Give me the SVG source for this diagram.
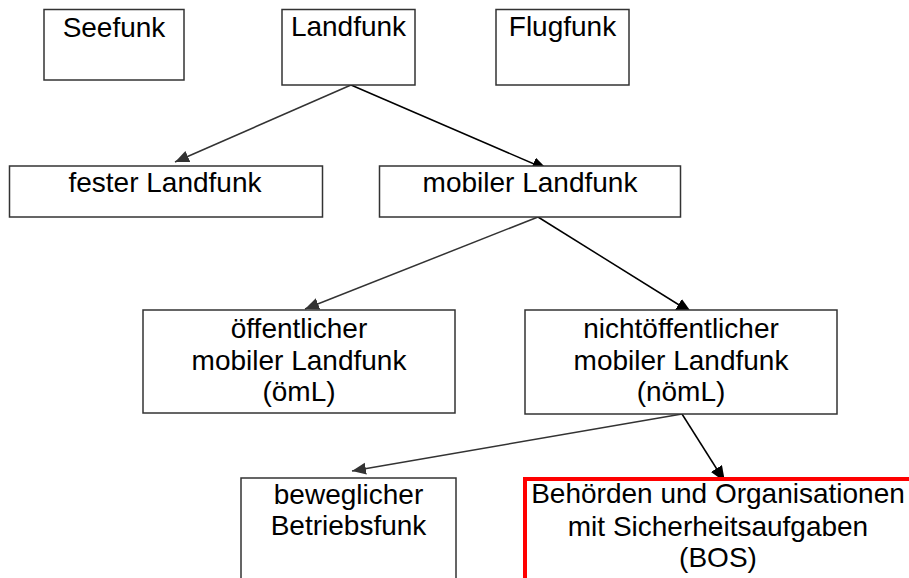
<svg xmlns="http://www.w3.org/2000/svg" width="909" height="578" viewBox="0 0 909 578">
<style>
.box{fill:#fff;stroke:#333;stroke-width:1.5}
.bos{fill:#fff;stroke:#f00;stroke-width:4}
.t{font-family:"Liberation Sans",Arial,sans-serif;font-size:28px;fill:#000;text-anchor:middle}
.c1{stroke:#333;stroke-width:1.5;fill:none}
.c2{stroke:#000;stroke-width:1.5;fill:none}
</style>
<defs>
<marker id="ag" markerUnits="userSpaceOnUse" markerWidth="16" markerHeight="14" refX="14" refY="6" orient="auto">
<path d="M0,0 L14,6 L0,12 Z" fill="#333"/>
</marker>
<marker id="ab" markerUnits="userSpaceOnUse" markerWidth="18" markerHeight="14" refX="16" refY="6.5" orient="auto">
<path d="M0,0 L16,6.5 L0,13 Z" fill="#000"/>
</marker>
</defs>
<rect width="909" height="578" fill="#fff"/>
<g id="connectors">
<line class="c1" x1="351" y1="85" x2="175" y2="162" marker-end="url(#ag)"/>
<line class="c2" x1="351" y1="85" x2="548" y2="170" marker-end="url(#ab)"/>
<line class="c1" x1="538" y1="217" x2="305" y2="309" marker-end="url(#ag)"/>
<line class="c2" x1="538" y1="217" x2="692" y2="313" marker-end="url(#ab)"/>
<line class="c1" x1="682" y1="414" x2="352" y2="471" marker-end="url(#ag)"/>
<line class="c2" x1="682" y1="414" x2="725" y2="482" marker-end="url(#ab)"/>
</g>
<g id="seefunk">
<rect class="box" x="44" y="9.5" width="140" height="70.5"/>
<text class="t" x="114" y="37">Seefunk</text>
</g>
<g id="landfunk">
<rect class="box" x="282" y="9.5" width="133" height="75.5"/>
<text class="t" x="348.5" y="36">Landfunk</text>
</g>
<g id="flugfunk">
<rect class="box" x="496" y="9.5" width="133" height="75.5"/>
<text class="t" x="562.5" y="36">Flugfunk</text>
</g>
<g id="fester">
<rect class="box" x="9.5" y="166" width="313" height="51"/>
<text class="t" x="165" y="192">fester Landfunk</text>
</g>
<g id="mobiler">
<rect class="box" x="379.5" y="166" width="301" height="51"/>
<text class="t" x="530" y="192">mobiler Landfunk</text>
</g>
<g id="oeml">
<rect class="box" x="143" y="310" width="312" height="103"/>
<text class="t" x="299" y="338">öffentlicher</text>
<text class="t" x="299" y="370">mobiler Landfunk</text>
<text class="t" x="299" y="401">(ömL)</text>
</g>
<g id="noeml">
<rect class="box" x="525" y="310" width="312" height="104"/>
<text class="t" x="681" y="338">nichtöffentlicher</text>
<text class="t" x="681" y="370">mobiler Landfunk</text>
<text class="t" x="681" y="401">(nömL)</text>
</g>
<g id="beweglich">
<rect class="box" x="241" y="478" width="215" height="120"/>
<text class="t" x="348.5" y="504">beweglicher</text>
<text class="t" x="348.5" y="535">Betriebsfunk</text>
</g>
<g id="bos">
<rect class="bos" x="525" y="479" width="390" height="120"/>
<text class="t" x="718" y="503">Behörden und Organisationen</text>
<text class="t" x="718" y="536">mit Sicherheitsaufgaben</text>
<text class="t" x="718" y="567">(BOS)</text>
</g>
</svg>
